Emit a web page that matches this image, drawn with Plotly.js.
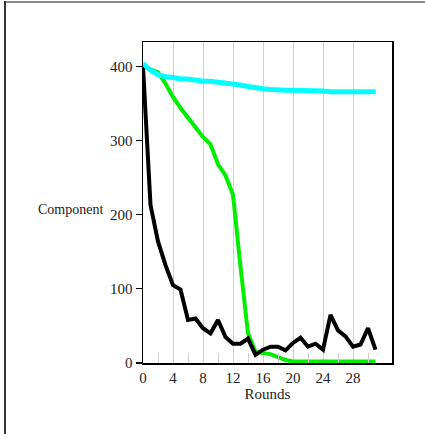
<!DOCTYPE html>
<html>
<head>
<meta charset="utf-8">
<script src="https://cdn.plot.ly/plotly-3.0.1.min.js"></script>
<style>
  html, body { margin: 0; padding: 0; background: #fff; }
  #wrap { position: relative; width: 425px; height: 434px; overflow: hidden; }
  #chart { position: absolute; left: 0; top: 0; width: 425px; height: 434px; }
  #bt { position: absolute; left: 4px; top: 1px; width: 421px; height: 2px; background: #8a8a8a; }
  #bl { position: absolute; left: 4px; top: 1px; width: 2px; height: 433px; background: #333; }
</style>
</head>
<body>
<div id="wrap">
  <div id="chart"></div>
  <div id="bt"></div>
  <div id="bl"></div>
</div>
<script>
const rounds = Array.from({length: 32}, (_, i) => i);
const blackVals = [400, 213, 164, 132, 105, 99, 58, 60, 47, 40, 58, 35, 26, 26, 33, 11, 18, 22, 22, 17, 27, 34, 22, 26, 18, 65, 44, 36, 22, 25, 47, 18];
const greenVals = [400, 396, 392, 377, 359, 344, 331, 319, 305, 295, 268, 253, 227, 130, 40, 15, 14, 12, 8, 4, 2, 2, 2, 2, 2, 2, 2, 2, 2, 2, 2, 2];
const cyanVals = [404, 395, 389, 386, 385, 383, 383, 381, 380, 380, 379, 378, 376, 375, 373, 371, 370, 369, 368, 368, 368, 368, 367, 367, 367, 366, 366, 366, 366, 366, 366, 366];
const xTickVals = [0, 4, 8, 12, 16, 20, 24, 28];
const xTickText = ['0', '4', '8', '12', '16', '20', '24', '28'];
const xMinorVals = [2, 6, 10, 14, 18, 22, 26, 30];
const yTickVals = [0, 100, 200, 300, 400];

const font = {family: 'Liberation Serif, DejaVu Serif, serif', size: 15, color: '#222'};
const annFont = {family: 'Liberation Serif, DejaVu Serif, serif', size: 14, color: '#222'};

const traces = [
  {x: rounds, y: greenVals, mode: 'lines', line: {color: '#00ee00', width: 4}, hoverinfo: 'skip'},
  {x: rounds, y: blackVals, mode: 'lines', line: {color: '#000000', width: 4}, hoverinfo: 'skip'},
  {x: rounds, y: cyanVals, mode: 'lines', line: {color: '#00ffff', width: 5}, hoverinfo: 'skip'}
];

const layout = {
  width: 425, height: 434,
  margin: {l: 143, r: 33, t: 42, b: 71},
  paper_bgcolor: '#fff', plot_bgcolor: '#fff',
  showlegend: false,
  font: font,
  xaxis: {
    range: [0, 33.2],
    tickmode: 'array', tickvals: xTickVals, ticktext: xTickText,
    ticks: '', showgrid: true, gridcolor: '#d0d0d0', gridwidth: 1,
    zeroline: false,
    showline: true, linecolor: '#000', linewidth: 1.5, mirror: true,
    tickfont: font,
    title: {text: 'Rounds', font: font, standoff: 4},
    minor: {tickmode: 'array', tickvals: xMinorVals, ticks: 'inside', ticklen: 10, tickwidth: 1, tickcolor: '#d0d0d0', showgrid: false}
  },
  yaxis: {
    range: [0, 433],
    tickmode: 'array', tickvals: yTickVals,
    ticks: 'outside', ticklen: 6, tickcolor: '#000', tickwidth: 1.2,
    showgrid: false, zeroline: false,
    showline: true, linecolor: '#000', linewidth: 1.5, mirror: true,
    tickfont: font
  },
  annotations: [{
    text: 'Component', xref: 'paper', yref: 'y', x: 0, y: 207,
    xanchor: 'right', yanchor: 'middle', xshift: -38, showarrow: false, font: annFont
  }]
};

Plotly.newPlot('chart', traces, layout, {staticPlot: true, displayModeBar: false});
</script>
</body>
</html>
